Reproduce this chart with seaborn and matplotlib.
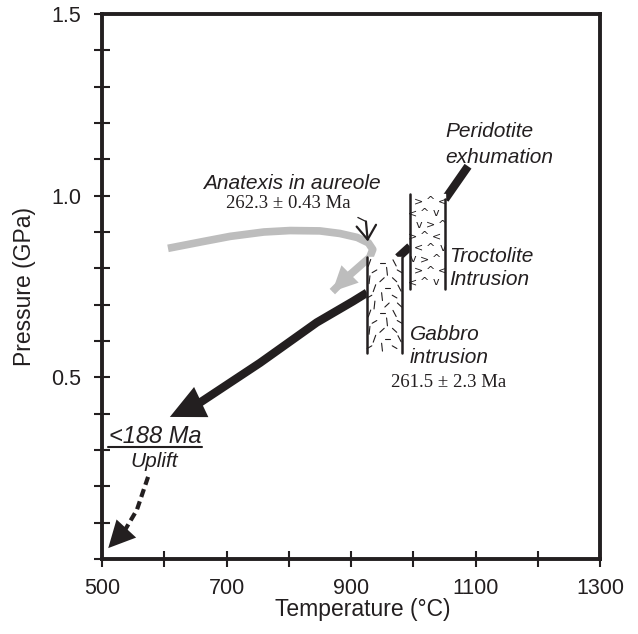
import matplotlib
matplotlib.use("Agg")
import matplotlib.pyplot as plt
import seaborn as sns
import numpy as np

# P-T path data (temperature in degC, pressure in GPa)
peridotite_T = [1088, 1051]
peridotite_P = [1.081, 0.990]
link_T = [975.5, 994.8]
link_P = [0.830, 0.860]
cooling_T = [925.7, 903, 845, 754, 657, 609]
cooling_P = [0.733, 0.709, 0.651, 0.540, 0.430, 0.391]
aureole_T = [606, 660, 706, 760, 802, 850, 882, 910, 928, 935, 930, 918, 890, 870]
aureole_P = [0.855, 0.873, 0.888, 0.900, 0.904, 0.903, 0.896, 0.885, 0.870, 0.852, 0.830, 0.812, 0.770, 0.736]
uplift_T = [574, 556, 537, 510]
uplift_P = [0.226, 0.135, 0.080, 0.030]
pointer_T = [911, 924, 927]
pointer_P = [0.940, 0.929, 0.874]

# intrusion bodies: (T left, T right, P bottom, P top)
gabbro_box = [925.7, 982, 0.568, 0.830]
troctolite_box = [994.8, 1051, 0.742, 1.004]

x_ticks = [500, 600, 700, 800, 900, 1000, 1100, 1200, 1300]
x_labels = ['500', '', '700', '', '900', '', '1100', '', '1300']
y_ticks = [round(v * 0.1, 1) for v in range(16)]
y_labels = ['0.5' if t == 0.5 else '1.0' if t == 1.0 else '1.5' if t == 1.5 else '' for t in y_ticks]

sns.set_theme(style="white")
plt.rcParams['font.family'] = ['Liberation Sans', 'DejaVu Sans']
ink = '#231f20'

fig = plt.figure(figsize=(6.38, 6.34), dpi=100)
ax = fig.add_axes([102 / 638, 75 / 634, 498 / 638, 545 / 634])
ax.set_xlim(500, 1300)
ax.set_ylim(0, 1.5)

# grey aureole path
sns.lineplot(x=aureole_T, y=aureole_P, sort=False, estimator=None, color='#bdbdbd',
             lw=5.5, ax=ax, solid_capstyle='butt', solid_joinstyle='round')
ax.annotate('', xy=(aureole_T[-1], aureole_P[-1]), xytext=(aureole_T[-2], aureole_P[-2]),
            arrowprops=dict(arrowstyle='-|>,head_length=0.45,head_width=0.22', mutation_scale=40,
                            color='#bdbdbd', lw=0, shrinkA=0, shrinkB=0))

# black P-T path
for T, P in [(peridotite_T, peridotite_P), (link_T, link_P), (cooling_T[:-1], cooling_P[:-1])]:
    sns.lineplot(x=T, y=P, sort=False, estimator=None, color=ink, lw=6,
                 ax=ax, solid_capstyle='butt', solid_joinstyle='round')
ax.annotate('', xy=(cooling_T[-1], cooling_P[-1]), xytext=(cooling_T[-2], cooling_P[-2]),
            arrowprops=dict(arrowstyle='-|>,head_length=0.5,head_width=0.24', mutation_scale=50,
                            color=ink, lw=0, shrinkA=0, shrinkB=0))

# dashed uplift arrow
sns.lineplot(x=uplift_T[:-1], y=uplift_P[:-1], sort=False, estimator=None, color=ink,
             lw=3, ls=(0, (2.0, 1.1)), ax=ax)
ax.annotate('', xy=(uplift_T[-1], uplift_P[-1]), xytext=(uplift_T[-2], uplift_P[-2]),
            arrowprops=dict(arrowstyle='-|>,head_length=0.6,head_width=0.3', mutation_scale=32,
                            color=ink, lw=0, shrinkA=0, shrinkB=0))

# anatexis pointer
ax.plot(pointer_T[:2], pointer_P[:2], color=ink, lw=0.9)
ax.annotate('', xy=(pointer_T[2], pointer_P[2]), xytext=(pointer_T[1], pointer_P[1]),
            arrowprops=dict(arrowstyle='->,head_length=0.5,head_width=0.35', mutation_scale=20,
                            color=ink, lw=1.6, shrinkA=0, shrinkB=0))

# intrusion bodies with textures
for box in (gabbro_box, troctolite_box):
    t0, t1, p0, p1 = box
    ax.fill_between([t0, t1], p0, p1, color='white', zorder=3)
    ax.plot([t0, t0], [p0, p1], color=ink, lw=1.8, zorder=4)
ax.plot([gabbro_box[1]] * 2, [gabbro_box[2], gabbro_box[3]], color=ink, lw=1.8, zorder=4)
ax.plot([troctolite_box[1]] * 2, [troctolite_box[2], 0.99], color=ink, lw=1.8, zorder=4)

angles = [20, 100, 160, 60, 0, 130, 80, 30, 150]
k = 0
t0, t1, p0, p1 = gabbro_box
for i, p in enumerate(np.linspace(p0 + 0.015, p1 - 0.015, 11)):
    for j, t in enumerate(np.linspace(t0 + 8, t1 - 8, 3)):
        a = np.deg2rad(angles[k % len(angles)])
        tt = t + (4 if i % 2 else -4)
        ax.plot([tt - 4 * np.cos(a), tt + 4 * np.cos(a)],
                [p - 0.011 * np.sin(a), p + 0.011 * np.sin(a)], color=ink, lw=0.8, zorder=4)
        k += 1

chevrons = ['<', '^', 'v', '>', '^', '<', 'v', '>', '^']
k = 0
t0, t1, p0, p1 = troctolite_box
for i, p in enumerate(np.linspace(p0 + 0.02, p1 - 0.02, 8)):
    for j, t in enumerate(np.linspace(t0 + 9, t1 - 9, 3)):
        tt = t + (5 if i % 2 else -5)
        ax.text(tt, p, chevrons[k % len(chevrons)], fontsize=8, ha='center', va='center', zorder=4,
                family='DejaVu Sans', color=ink)
        k += 1

# annotations
it = dict(fontsize=15, style='italic', color=ink)
serif = dict(fontsize=13.5, family='Liberation Serif', color=ink)
ax.text(1052, 1.177, 'Peridotite', ha='left', va='center', **it)
ax.text(1052, 1.106, 'exhumation', ha='left', va='center', **it)
ax.text(805, 1.033, 'Anatexis in aureole', ha='center', va='center', **it)
ax.text(900, 0.978, '262.3 \u00b1 0.43 Ma', ha='right', va='center', **serif)
ax.text(1058, 0.833, 'Troctolite', ha='left', va='center', **it)
ax.text(1058, 0.769, 'Intrusion', ha='left', va='center', **it)
ax.text(994, 0.617, 'Gabbro', ha='left', va='center', **it)
ax.text(994, 0.554, 'intrusion', ha='left', va='center', **it)
ax.text(1057, 0.485, '261.5 \u00b1 2.3 Ma', ha='center', va='center', **serif)
ax.text(585, 0.338, '<188 Ma', ha='center', va='center', fontsize=17, style='italic', color=ink)
ax.plot([509, 660], [0.309, 0.309], color=ink, lw=1.5)
ax.text(584, 0.267, 'Uplift', ha='center', va='center', **it)

# axes styling
ax.set_xticks(x_ticks)
ax.set_xticklabels(x_labels)
ax.set_yticks(y_ticks)
ax.set_yticklabels(y_labels)
ax.tick_params(axis='both', direction='inout', length=12, width=1.5, colors=ink,
               labelsize=15.5, labelcolor=ink, bottom=True, left=True, top=False, right=False)
ax.tick_params(axis='x', pad=7.5)
ax.tick_params(axis='y', pad=9)
for s in ax.spines.values():
    s.set_linewidth(2.8)
    s.set_color(ink)
ax.set_xlabel('Temperature (\u00b0C)', fontsize=16.5, color=ink)
ax.set_ylabel('Pressure (GPa)', fontsize=16.5, color=ink)
ax.xaxis.set_label_coords(0.523, -0.071)
ax.yaxis.set_label_coords(-0.1325, 0.5)

fig.savefig('out.png', dpi=100)
